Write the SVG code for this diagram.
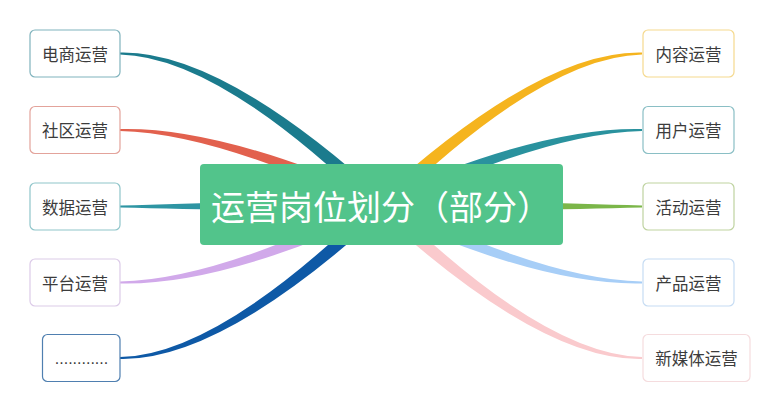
<svg xmlns="http://www.w3.org/2000/svg" width="780" height="411" viewBox="0 0 780 411">
<style>
.node rect{fill:#ffffff;stroke-width:1.2}
.node text{font-family:"Noto Sans CJK SC","Noto Sans",sans-serif;font-size:16.5px;fill:#3c3c3c;text-anchor:middle;dominant-baseline:central}
.center text{font-family:"Noto Sans CJK SC","Noto Sans",sans-serif;font-size:34px;fill:#ffffff;dominant-baseline:central}
</style>
<rect width="780" height="411" fill="#ffffff"/>
<g id="connectors">
<path fill="#1B7B8D" d="M 120,52.6 Q 221.29,50.25 385.8,199.9 L 376.2,210.1 Q 218.71,56.75 120,54.4 Z"/>
<path fill="#E2614E" d="M 120,129.1 Q 220.76,126.58 383.96,198.65 L 378.04,211.35 Q 219.24,133.42 120,130.9 Z"/>
<path fill="#2E95A3" d="M 120,205.6 Q 220,203 381,198 L 381,212 Q 220,210 120,207.4 Z"/>
<path fill="#D1A9EA" d="M 120,281.6 Q 219.22,279.09 377.96,198.69 L 384.04,211.31 Q 220.78,285.91 120,283.4 Z"/>
<path fill="#0E59A6" d="M 120,357.1 Q 218.70,354.75 376.18,199.93 L 385.82,210.07 Q 221.30,361.25 120,358.9 Z"/>
<path fill="#F5B41E" d="M 642,52.6 Q 540.71,50.25 376.2,199.9 L 385.8,210.1 Q 543.29,56.75 642,54.4 Z"/>
<path fill="#2A929E" d="M 642,129.1 Q 541.24,126.58 378.04,198.65 L 383.96,211.35 Q 542.76,133.42 642,130.9 Z"/>
<path fill="#7BB649" d="M 642,205.6 Q 542,203 381,198 L 381,212 Q 542,210 642,207.4 Z"/>
<path fill="#A7CEF7" d="M 642,281.6 Q 542.78,279.09 384.04,198.69 L 377.96,211.31 Q 541.22,285.91 642,283.4 Z"/>
<path fill="#FACACD" d="M 642,357.1 Q 543.30,354.75 385.82,199.93 L 376.18,210.07 Q 540.70,361.25 642,358.9 Z"/>
</g>
<g id="center" class="center">
<rect x="200" y="164" width="363" height="81" rx="4" fill="#52C48B"/>
<text x="211" y="205.5">运营岗位划分（部分）</text>
</g>
<g id="n-dianshang" class="node"><rect x="30" y="30" width="90" height="47" rx="5" stroke="#80B3BD"/><text x="75" y="53.5">电商运营</text></g>
<g id="n-shequ" class="node"><rect x="30" y="106.5" width="90" height="47" rx="5" stroke="#E3A39B"/><text x="75" y="130">社区运营</text></g>
<g id="n-shuju" class="node"><rect x="30" y="183" width="90" height="47" rx="5" stroke="#8FC5CA"/><text x="75" y="206.5">数据运营</text></g>
<g id="n-pingtai" class="node"><rect x="30" y="259" width="90" height="47" rx="5" stroke="#DCCBE8"/><text x="75" y="282.5">平台运营</text></g>
<g id="n-more" class="node"><rect x="42.5" y="334.5" width="77.5" height="47" rx="5" stroke="#4F7FB0"/><text x="81.5" y="358" style="font-family:'Liberation Sans',sans-serif;font-size:16px">............</text></g>
<g id="n-neirong" class="node"><rect x="643" y="30" width="91" height="47" rx="5" stroke="#F5D98E"/><text x="688.5" y="53.5">内容运营</text></g>
<g id="n-yonghu" class="node"><rect x="643" y="106.5" width="91" height="47" rx="5" stroke="#8ABFC5"/><text x="688.5" y="130">用户运营</text></g>
<g id="n-huodong" class="node"><rect x="643" y="183" width="91" height="47" rx="5" stroke="#BFD3A0"/><text x="688.5" y="206.5">活动运营</text></g>
<g id="n-chanpin" class="node"><rect x="643" y="259" width="91" height="47" rx="5" stroke="#C6DCF3"/><text x="688.5" y="282.5">产品运营</text></g>
<g id="n-xinmeiti" class="node"><rect x="643" y="334.5" width="107" height="47" rx="5" stroke="#F5DCDE"/><text x="696.5" y="358">新媒体运营</text></g>
</svg>
